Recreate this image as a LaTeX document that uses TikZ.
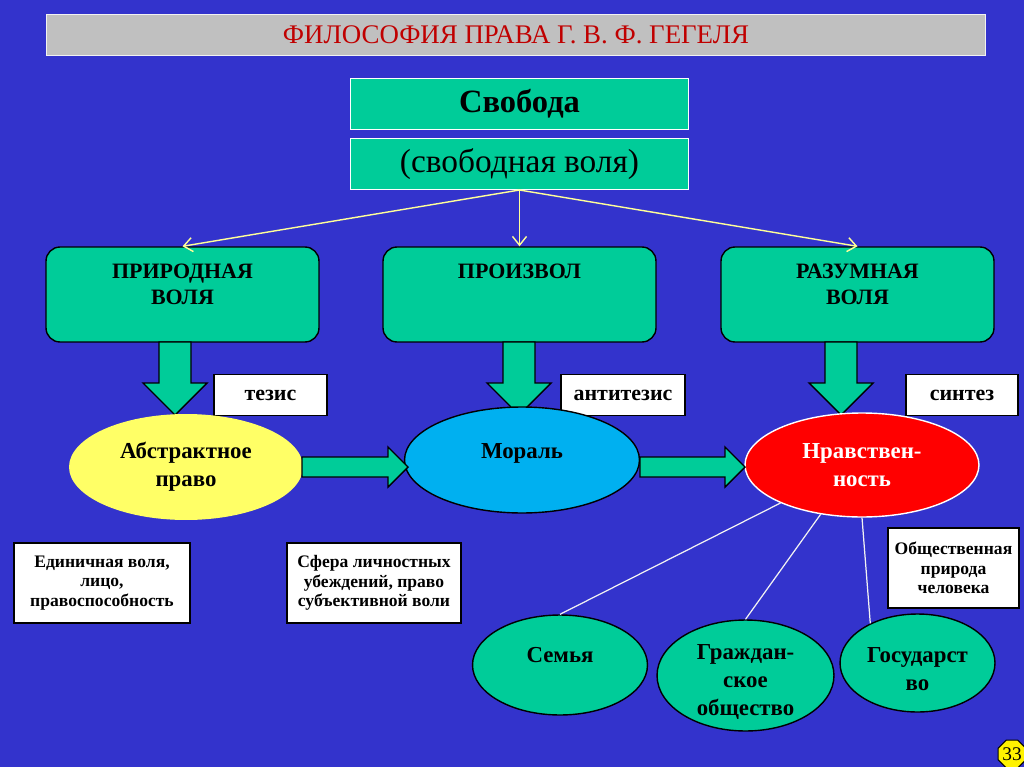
\documentclass[tikz,border=0pt]{standalone}
\usepackage{fontspec}
\setmainfont{Liberation Serif}
\usetikzlibrary{shapes.geometric,arrows.meta}
\definecolor{slideblue}{HTML}{3333CC}
\definecolor{slideteal}{HTML}{00CC99}
\definecolor{slidegray}{HTML}{C0C0C0}
\definecolor{titlered}{HTML}{C00000}
\definecolor{lightyellow}{HTML}{FFFF66}
\definecolor{skyblue}{HTML}{00B0F0}
\definecolor{paleyellow}{HTML}{FFFF99}
\newcommand\toptext[1]{\parbox[c][1.5cm][t]{5cm}{\centering\vspace*{4pt}#1}}

\begin{document}
\begin{tikzpicture}[x=0.02cm, y=-0.02cm,
  every node/.style={inner sep=0pt, align=center},
  tealbox/.style={rectangle, draw=white, line width=0.6pt, fill=slideteal, minimum width=6.76cm, minimum height=1.02cm},
  willbox/.style={rectangle, draw=black, line width=0.8pt, fill=slideteal, rounded corners=0.28cm,
    minimum width=5.46cm, minimum height=1.9cm, font=\bfseries\fontsize{12.5}{15}\selectfont},
  tagbox/.style={rectangle, draw=black, line width=0.6pt, fill=white, minimum height=0.82cm,
    font=\bfseries\fontsize{12.5}{15}\selectfont},
  notebox/.style={rectangle, draw=black, line width=0.6pt, fill=white, minimum height=1.6cm,
    font=\bfseries\fontsize{10}{11}\selectfont},
  stage/.style={ellipse, line width=0.8pt, font=\bfseries\fontsize{13}{16}\selectfont},
  part/.style={ellipse, draw=black, line width=0.8pt, fill=slideteal, inner ysep=-10pt,
    font=\bfseries\fontsize{13}{16}\selectfont},
  blockarrow/.style={draw=black, line width=0.8pt, fill=slideteal},
  yline/.style={draw=paleyellow, line width=0.8pt, -{Straight Barb[length=5pt,width=8pt]}},
  wline/.style={draw=white!90!gray, line width=0.7pt}]
\useasboundingbox (0,0) rectangle (1024,767);
\fill[slideblue] (0,0) rectangle (1024,767);
% Title
\node[rectangle, draw=white!90!gray, line width=0.6pt, fill=slidegray, minimum width=18.8cm, minimum height=0.82cm,
  font=\fontsize{15.3}{17}\selectfont, text=titlered] (title) at (516,35) {ФИЛОСОФИЯ ПРАВА Г. В. Ф. ГЕГЕЛЯ};
% Freedom
\node[tealbox, font=\bfseries\fontsize{18.5}{20}\selectfont] (free) at (519.5,104) {Свобода};
\node[tealbox, font=\fontsize{19}{21}\selectfont] (freewill) at (519.5,164) {(свободная воля)};
% Three forms of will
\node[willbox] (nat) at (182.5,294.5) {\toptext{ПРИРОДНАЯ\\ВОЛЯ}};
\node[willbox] (arb) at (519.5,294.5) {\toptext{ПРОИЗВОЛ}};
\node[willbox] (reas) at (857.5,294.5) {\toptext{РАЗУМНАЯ\\ВОЛЯ}};
\foreach \v in {nat, arb, reas}
    \draw[yline] (freewill.south) -- (\v.north);
% Thesis, antithesis, synthesis
\node[tagbox, minimum width=2.26cm] (thesis) at (270.5,395) {тезис};
\node[tagbox, minimum width=2.48cm] (antithesis) at (623,395) {антитезис};
\node[tagbox, minimum width=2.24cm] (synthesis) at (962,395) {синтез};
\foreach \cx in {175, 519, 841}
    \draw[blockarrow] (\cx-16,342) -- (\cx+16,342) -- (\cx+16,383) -- (\cx+32,383) -- (\cx,415)
        -- (\cx-32,383) -- (\cx-16,383) -- cycle;
% Stages
\node[stage, fill=lightyellow, minimum width=4.68cm, minimum height=2.12cm] (abs) at (186,467) {Абстрактное\\право};
\node[stage, draw=black, fill=skyblue, minimum width=4.7cm, minimum height=2.12cm] (mor) at (522,460) {Мораль\\[-6pt]~};
\node[stage, draw=white, fill=red, minimum width=4.68cm, minimum height=2.08cm, text=white] (eth) at (862,465) {Нравствен-\\ность};
\foreach \xa/\xb in {302/408, 640/745}
    \draw[blockarrow] (\xa,457) -- (\xb-20,457) -- (\xb-20,447) -- (\xb,467) -- (\xb-20,487)
        -- (\xb-20,477) -- (\xa,477) -- cycle;
% Notes
\node[notebox, minimum width=3.52cm] (n1) at (102,583) {Единичная воля,\\лицо,\\правоспособность};
\node[notebox, minimum width=3.48cm] (n2) at (374,583) {Сфера личностных\\убеждений, право\\субъективной воли};
\node[notebox, minimum width=2.62cm] (n3) at (953.5,568) {Общественная\\природа\\человека};
% Parts of ethical life
\node[part, minimum width=3.5cm, minimum height=2cm] (fam) at (560,665) {Семья\\[-4pt]~};
\node[part, minimum width=3.54cm, minimum height=2.22cm] (civ) at (745.5,675.5) {\rule{0pt}{16pt}Граждан-\\ское\\общество};
\node[part, minimum width=3.1cm, minimum height=1.96cm] (st) at (917.5,663) {\rule{0pt}{15pt}Государст\\во};
\draw[wline] (eth.205) -- (fam.north);
\draw[wline] (eth.230) -- (civ.north);
\draw[wline] (eth.270) -- (st.140);
% Page number
\node[regular polygon, regular polygon sides=8, draw=black, line width=0.6pt, fill=yellow,
  minimum size=0.6cm, font=\fontsize{11}{12}\selectfont] (num) at (1012,754) {33};
\end{tikzpicture}
\end{document}
